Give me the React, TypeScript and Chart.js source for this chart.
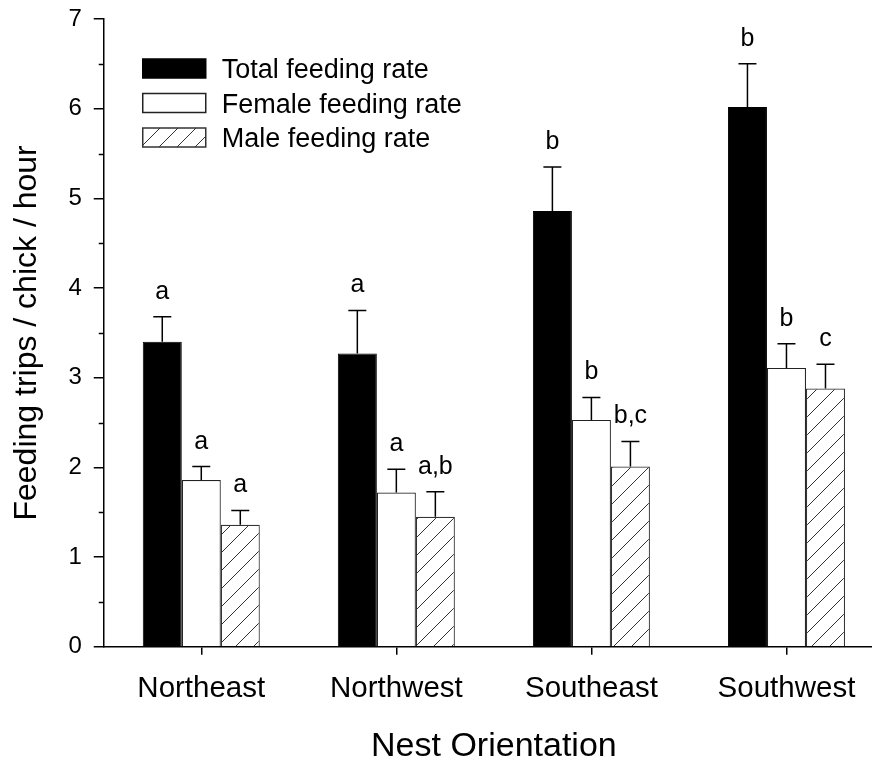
import React, { useEffect, useRef } from 'react';
import { Chart, registerables } from 'chart.js';

Chart.register(...registerables);

const categories = ['Northeast', 'Northwest', 'Southeast', 'Southwest'];
const seriesNames = ['Total feeding rate', 'Female feeding rate', 'Male feeding rate'];
const totalRate = [3.4, 3.27, 4.86, 6.02];
const totalSE = [0.28, 0.48, 0.49, 0.48];
const femaleRate = [1.86, 1.72, 2.53, 3.11];
const femaleSE = [0.15, 0.26, 0.25, 0.27];
const maleRate = [1.36, 1.45, 2.01, 2.88];
const maleSE = [0.16, 0.28, 0.28, 0.27];
const totalLetters = ['a', 'a', 'b', 'b'];
const femaleLetters = ['a', 'a', 'b', 'b'];
const maleLetters = ['a', 'a,b', 'b,c', 'c'];
const yTickLabels = [0, 1, 2, 3, 4, 5, 6, 7];
const xTitle = 'Nest Orientation';
const yTitle = 'Feeding trips / chick / hour';

const FONT = "'Liberation Sans', Arial, Helvetica, sans-serif";

function makeHatch(): CanvasPattern | string {
  const s = 18;
  const c = document.createElement('canvas');
  c.width = s;
  c.height = s;
  const g = c.getContext('2d');
  if (!g) return '#fff';
  g.fillStyle = '#ffffff';
  g.fillRect(0, 0, s, s);
  g.strokeStyle = '#333333';
  g.lineWidth = 1;
  g.beginPath();
  g.moveTo(0, s);
  g.lineTo(s, 0);
  g.moveTo(-s / 2, s / 2);
  g.lineTo(s / 2, -s / 2);
  g.moveTo(s / 2, s + s / 2);
  g.lineTo(s + s / 2, s / 2);
  g.stroke();
  return g.createPattern(c, 'repeat') || '#fff';
}

export default function App() {
  const ref = useRef<HTMLCanvasElement | null>(null);

  useEffect(() => {
    if (!ref.current) return;
    const hatch = makeHatch();
    const errs = [totalSE, femaleSE, maleSE];
    const letters = [totalLetters, femaleLetters, maleLetters];

    const errorPlugin = {
      id: 'errorBarsLetters',
      afterDatasetsDraw(chart: any) {
        const ctx = chart.ctx;
        const yScale = chart.scales.y;
        ctx.save();
        chart.data.datasets.forEach((ds: any, i: number) => {
          const meta = chart.getDatasetMeta(i);
          meta.data.forEach((el: any, j: number) => {
            const v = ds.data[j];
            const top = yScale.getPixelForValue(v + errs[i][j]);
            const x = el.x;
            ctx.strokeStyle = '#000';
            ctx.lineWidth = 1.5;
            ctx.beginPath();
            ctx.moveTo(x, el.y);
            ctx.lineTo(x, top);
            ctx.moveTo(x - 9, top);
            ctx.lineTo(x + 9, top);
            ctx.stroke();
            ctx.fillStyle = '#000';
            ctx.font = `25px ${FONT}`;
            ctx.textAlign = 'center';
            ctx.textBaseline = 'alphabetic';
            ctx.fillText(letters[i][j], x, top - 18);
          });
        });
        ctx.restore();
      },
    };

    const minorTicksPlugin = {
      id: 'minorTicks',
      afterDraw(chart: any) {
        const ctx = chart.ctx;
        const y = chart.scales.y;
        const left = chart.chartArea.left;
        ctx.save();
        ctx.strokeStyle = '#000';
        ctx.lineWidth = 1.5;
        y.ticks.forEach((t: any) => {
          if (yTickLabels.includes(t.value)) return;
          const py = Math.round(y.getPixelForValue(t.value)) + 0.5;
          ctx.beginPath();
          ctx.moveTo(left, py);
          ctx.lineTo(left - 5, py);
          ctx.stroke();
        });
        ctx.restore();
      },
    };

    const legendPlugin = {
      id: 'customLegend',
      afterDraw(chart: any) {
        const ctx = chart.ctx;
        const { left, top } = chart.chartArea;
        const bx = left + 39;
        const bw = 63;
        const bh = 19;
        ctx.save();
        chart.data.datasets.forEach((ds: any, i: number) => {
          const by = top + 40 + i * 34.5;
          ctx.fillStyle = ds.backgroundColor;
          ctx.fillRect(bx, by, bw, bh);
          ctx.strokeStyle = ds.borderColor;
          ctx.lineWidth = 1.5;
          ctx.strokeRect(bx, by, bw, bh);
          ctx.fillStyle = '#000';
          ctx.font = `27px ${FONT}`;
          ctx.textAlign = 'left';
          ctx.textBaseline = 'alphabetic';
          ctx.fillText(ds.label, bx + 79, by + bh / 2 + 9.7);
        });
        ctx.restore();
      },
    };

    const chart = new Chart(ref.current, {
      type: 'bar',
      data: {
        labels: categories,
        datasets: [
          {
            label: seriesNames[0],
            data: totalRate,
            backgroundColor: '#000000',
            borderColor: '#000000',
            borderWidth: 1,
          },
          {
            label: seriesNames[1],
            data: femaleRate,
            backgroundColor: '#ffffff',
            borderColor: '#222222',
            borderWidth: 1.2,
          },
          {
            label: seriesNames[2],
            data: maleRate,
            backgroundColor: hatch as any,
            borderColor: '#333333',
            borderWidth: 1.2,
          },
        ],
      },
      options: {
        responsive: false,
        maintainAspectRatio: false,
        animation: false,
        devicePixelRatio: 1,
        layout: { padding: { top: 19, right: 6, bottom: 0, left: 0 } },
        datasets: {
          bar: { categoryPercentage: 0.6, barPercentage: 1.0 },
        },
        plugins: {
          legend: { display: false },
          tooltip: { enabled: false },
        },
        scales: {
          x: {
            type: 'category',
            offset: true,
            grid: {
              display: true,
              drawOnChartArea: false,
              offset: false,
              tickLength: 8,
              color: '#000',
              lineWidth: 1.5,
            },
            border: { display: true, color: '#000', width: 1.5 },
            ticks: {
              color: '#000',
              padding: 16,
              font: { family: FONT, size: 29.5 },
              maxRotation: 0,
              autoSkip: false,
            },
            title: {
              display: true,
              text: xTitle,
              color: '#000',
              font: { family: FONT, size: 34 },
              padding: { top: 4, bottom: 1 },
            },
          },
          y: {
            type: 'linear',
            min: 0,
            max: 7,
            grid: {
              display: true,
              drawOnChartArea: false,
              tickLength: 10,
              lineWidth: 1.5,
              color: (c: any) =>
                c.tick && yTickLabels.includes(c.tick.value) ? '#000' : 'rgba(0,0,0,0)',
            },
            border: { display: true, color: '#000', width: 1.5 },
            ticks: {
              stepSize: 0.5,
              autoSkip: false,
              color: '#000',
              padding: 12,
              font: { family: FONT, size: 24, lineHeight: 0.5 },
              callback: (v: any) => (yTickLabels.includes(Number(v)) ? String(v) : ''),
            },
            title: {
              display: true,
              text: yTitle,
              color: '#000',
              font: { family: FONT, size: 32 },
              padding: { top: 8, bottom: 10 },
            },
          },
        },
      },
      plugins: [errorPlugin, minorTicksPlugin, legendPlugin],
    });

    return () => chart.destroy();
  }, []);

  return (
    <div
      style={{
        position: 'fixed',
        left: 0,
        top: 0,
        width: 872,
        height: 768,
        overflow: 'hidden',
        background: '#fff',
      }}
    >
      <canvas ref={ref} width={890} height={768} style={{ display: 'block' }} />
    </div>
  );
}
